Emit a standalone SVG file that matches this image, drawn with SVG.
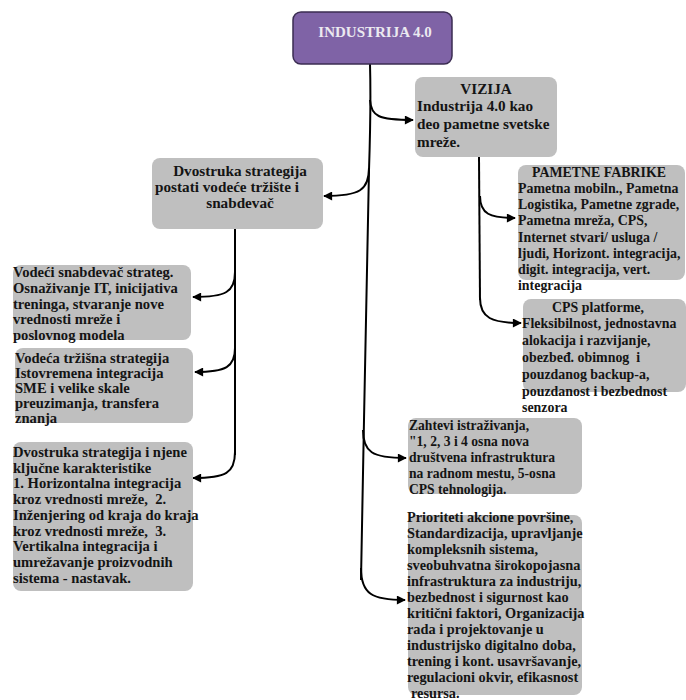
<svg xmlns="http://www.w3.org/2000/svg" width="686" height="700" viewBox="0 0 686 700">
  <defs>
    <style>
      .box { fill: #bfbfbf; }
      .root { fill: #7f63a6; stroke: #3b2d52; stroke-width: 1.5; }
      text { font-family: "Liberation Serif", "Times New Roman", serif; font-weight: bold; font-size: 14.3px; fill: #141414; }
      .title { fill: #ebe9f0; font-size: 15px; }
      .big { font-size: 15.2px; }
      .left { font-size: 14.6px; }
      .small { font-size: 13.9px; }
      .smaller { font-size: 13.6px; }
      .mid { text-anchor: middle; }
      .link { fill: none; stroke: #000; stroke-width: 2; }
      .arr { marker-end: url(#head); }
    </style>
    <marker id="head" viewBox="0 0 10 10" refX="9" refY="5" markerWidth="5" markerHeight="4.5" orient="auto" markerUnits="strokeWidth">
      <path d="M0,0 L10,5 L0,10 z" fill="#000"/>
    </marker>
  </defs>

  <rect width="686" height="700" fill="#fff"/>

  <!-- connectors -->
  <g id="connectors">
    <!-- main trunk from INDUSTRIJA 4.0 -->
    <path class="link" d="M370,64 C371,100 370,140 369,170 L364,420 L361,580"/>
    <path class="link arr" d="M370,100 C371,116 378,120 413,120"/>
    <path class="link arr" d="M369,168 C369,190 360,196 324,196"/>
    <path class="link arr" d="M363,430 C363,452 372,458 406,458"/>
    <path class="link arr" d="M361,568 C361,594 372,600 405,600"/>

    <!-- strategy branch -->
    <path class="link" d="M235,229 L235,455"/>
    <path class="link arr" d="M235,272 C235,292 226,297 193,297"/>
    <path class="link arr" d="M235,348 C235,367 226,372 195,372"/>
    <path class="link arr" d="M235,452 C235,473 226,478 193,478"/>

    <!-- vision branch -->
    <path class="link" d="M479,157 L480,300"/>
    <path class="link arr" d="M480,196 C480,214 490,218 515,218"/>
    <path class="link arr" d="M480,298 C480,318 492,323 521,323"/>
  </g>

  <g id="industrija">
    <rect class="root" x="293" y="12" width="159" height="52" rx="8"/>
    <text class="title mid" x="375" y="37">INDUSTRIJA 4.0</text>
  </g>

  <g id="vizija">
    <rect class="box" x="415" y="77" width="142" height="80" rx="8"/>
    <text class="big mid" x="486" y="94">VIZIJA</text>
    <text class="big" x="417" y="111">Industrija 4.0 kao</text>
    <text class="big" x="417" y="129">deo pametne svetske</text>
    <text class="big" x="417" y="147">mreže.</text>
  </g>

  <g id="dvostruka">
    <rect class="box" x="152" y="158" width="171" height="71" rx="8"/>
    <text class="big mid" x="240" y="176">Dvostruka strategija</text>
    <text class="big mid" x="227" y="192">postati vodeće tržište i</text>
    <text class="big mid" x="240" y="208">snabdevač</text>
  </g>

  <g id="snabdevac">
    <rect class="box" x="13" y="265" width="178" height="75" rx="8"/>
    <text class="left" x="13" y="277">Vodeći snabdevač strateg.</text>
    <text class="left" x="13" y="293">Osnaživanje IT, inicijativa</text>
    <text class="left" x="13" y="309">treninga, stvaranje nove</text>
    <text class="left" x="13" y="324">vrednosti mreže i</text>
    <text class="left" x="13" y="340">poslovnog modela</text>
  </g>

  <g id="trzisna">
    <rect class="box" x="15" y="348" width="178" height="75" rx="8"/>
    <text class="left" x="15" y="363">Vodeća tržišna strategija</text>
    <text class="left" x="15" y="378">Istovremena integracija</text>
    <text class="left" x="15" y="393">SME i velike skale</text>
    <text class="left" x="15" y="408">preuzimanja, transfera</text>
    <text class="left" x="15" y="423">znanja</text>
  </g>

  <g id="karakteristike">
    <rect class="box" x="13" y="442" width="180" height="149" rx="8"/>
    <text class="left" x="13" y="457">Dvostruka strategija i njene</text>
    <text class="left" x="13" y="473">ključne karakteristike</text>
    <text class="left" x="13" y="488">1. Horizontalna integracija</text>
    <text class="left" x="13" y="504" xml:space="preserve">kroz vrednosti mreže,  2.</text>
    <text class="left" x="13" y="520">Inženjering od kraja do kraja</text>
    <text class="left" x="13" y="536" xml:space="preserve">kroz vrednosti mreže,  3.</text>
    <text class="left" x="13" y="551">Vertikalna integracija i</text>
    <text class="left" x="13" y="567">umrežavanje proizvodnih</text>
    <text class="left" x="13" y="583">sistema - nastavak.</text>
  </g>

  <g id="fabrike">
    <rect class="box" x="518" y="165" width="167" height="115" rx="8"/>
    <text class="small mid" x="599" y="177">PAMETNE FABRIKE</text>
    <text class="small" x="518" y="193">Pametna mobiln., Pametna</text>
    <text class="small" x="518" y="209">Logistika, Pametne zgrade,</text>
    <text class="small" x="518" y="225">Pametna mreža, CPS,</text>
    <text class="small" x="518" y="242">Internet stvari/ usluga /</text>
    <text class="small" x="518" y="258">ljudi, Horizont. integracija,</text>
    <text class="small" x="518" y="274">digit. integracija, vert.</text>
    <text class="small" x="518" y="290">integracija</text>
  </g>

  <g id="cps">
    <rect class="box" x="523" y="299" width="163" height="93" rx="8"/>
    <text class="small mid" x="598" y="312">CPS platforme,</text>
    <text class="small" x="522" y="328">Fleksibilnost, jednostavna</text>
    <text class="small" x="522" y="345">alokacija i razvijanje,</text>
    <text class="small" x="522" y="362" xml:space="preserve">obezbeđ. obimnog  i</text>
    <text class="small" x="522" y="379">pouzdanog backup-a,</text>
    <text class="small" x="522" y="396">pouzdanost i bezbednost</text>
    <text class="small" x="522" y="412">senzora</text>
  </g>

  <g id="zahtevi">
    <rect class="box" x="408" y="418" width="174" height="76" rx="8"/>
    <text class="smaller" x="409" y="430">Zahtevi istraživanja,</text>
    <text class="smaller" x="409" y="446">"1, 2, 3 i 4 osna nova</text>
    <text class="smaller" x="409" y="462">društvena infrastruktura</text>
    <text class="smaller" x="409" y="478">na radnom mestu, 5-osna</text>
    <text class="smaller" x="409" y="494">CPS tehnologija.</text>
  </g>

  <g id="prioriteti">
    <rect class="box" x="408" y="515" width="174" height="180" rx="8"/>
    <text x="407" y="522">Prioriteti akcione površine,</text>
    <text x="407" y="538">Standardizacija, upravljanje</text>
    <text x="407" y="554">kompleksnih sistema,</text>
    <text x="407" y="570">sveobuhvatna širokopojasna</text>
    <text x="407" y="586">infrastruktura za industriju,</text>
    <text x="407" y="602">bezbednost i sigurnost kao</text>
    <text x="407" y="618">kritični faktori, Organizacija</text>
    <text x="407" y="634">rada i projektovanje u</text>
    <text x="407" y="650">industrijsko digitalno doba,</text>
    <text x="407" y="666">trening i kont. usavršavanje,</text>
    <text x="407" y="682">regulacioni okvir, efikasnost</text>
    <text x="411" y="698">resursa.</text>
  </g>
</svg>
